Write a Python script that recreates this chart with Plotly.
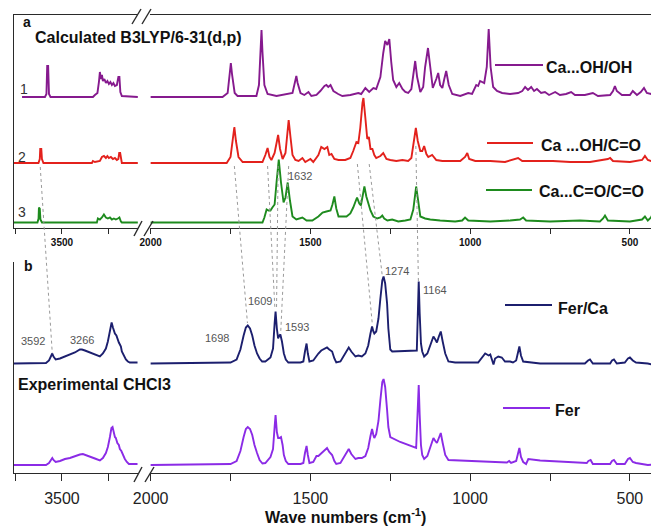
import plotly.graph_objects as go

# ---------------- data (wave number, intensity) ----------------
calc1_wn = [3925, 3681, 3665, 3657, 3647, 3638, 3622, 3170, 3149, 3122, 3106, 3096, 3085, 3074, 3064, 3048,
            3032, 3016, 3000, 2984, 2968, 2952, 2936, 2915, 2899, 2888, 2878, 2862, 2692,
            2000, 1775, 1759, 1753, 1749, 1745, 1737, 1728, 1669, 1661, 1656, 1653, 1650, 1644, 1634, 1616,
            1606, 1556, 1548, 1544, 1540, 1531, 1519, 1506, 1497, 1481, 1469, 1456, 1450, 1444, 1437, 1428,
            1413, 1400, 1375, 1359, 1350, 1341, 1328, 1316, 1303, 1294, 1281, 1272, 1266, 1259, 1253, 1247,
            1241, 1231, 1222, 1212, 1203, 1194, 1184, 1178, 1172, 1166, 1156, 1147, 1141, 1132, 1125, 1117,
            1106, 1100, 1094, 1087, 1081, 1075, 1067, 1056, 1031, 1006, 994, 981, 975, 969, 956, 948, 942,
            936, 928, 916, 900, 875, 850, 837, 828, 819, 809, 800, 791, 778, 766, 753, 734, 719, 700, 684,
            672, 641, 616, 600, 562, 553, 547, 541, 525, 500, 491, 478, 466, 456, 447, 434, 425, 416, 409]
calc1_int = [0, 0, 3, 31, 31, 3, 0, 0, 2, 4, 15, 25, 18, 22, 16, 18, 14, 16, 13, 15, 12, 14, 11, 12, 20, 20, 5, 1, 0,
             0, 0, 4, 22, 34, 22, 4, 1, 1, 12, 45, 67, 45, 12, 3, 2, 1, 4, 14, 21, 14, 4, 2, 5, 1, 2, 6, 11, 12,
             10, 12, 6, 3, 1, 2, 3, 4, 3, 9, 5, 9, 8, 20, 44, 56, 52, 58, 35, 17, 10, 14, 8, 5, 4, 8, 22, 36, 20,
             5, 10, 30, 49, 30, 9, 18, 24, 12, 9, 18, 26, 12, 3, 1, 4, 3, 12, 11, 16, 14, 30, 68, 30, 10, 6, 4, 3,
             4, 6, 10, 7, 10, 6, 8, 4, 5, 2, 5, 2, 3, 5, 2, 2, 4, 1, 2, 6, 11, 6, 2, 2, 6, 2, 5, 9, 4, 3, 7, 2, 4]

calc2_wn = [4011, 3750, 3736, 3731, 3720, 3713, 3697, 3181, 3170, 3149, 3096, 3074, 3053, 3032, 3016, 3000,
            2979, 2957, 2936, 2915, 2899, 2890, 2880, 2872, 2862, 2692,
            2000, 1762, 1750, 1744, 1738, 1733, 1725, 1712, 1650, 1641, 1634, 1628, 1622, 1612, 1606, 1601,
            1595, 1587, 1578, 1573, 1568, 1562, 1556, 1547, 1537, 1525, 1516, 1500, 1491, 1475, 1466, 1456,
            1447, 1441, 1434, 1425, 1412, 1391, 1375, 1366, 1356, 1350, 1344, 1337, 1334, 1328, 1322, 1317,
            1312, 1306, 1300, 1294, 1281, 1272, 1262, 1250, 1231, 1212, 1194, 1184, 1177, 1170, 1164, 1156,
            1150, 1144, 1137, 1131, 1119, 1106, 1087, 1056, 1031, 1016, 1009, 1003, 984, 937, 891, 850, 837,
            781, 741, 687, 625, 569, 562, 553, 500, 462, 453, 444, 422, 409]
calc2_int = [0, 0, 4, 14, 14, 4, 0, 0, 2, 1, 2, 6, 7, 5, 7, 5, 6, 4, 5, 3, 4, 10, 10, 3, 0, 0,
             0, 0, 6, 22, 36, 22, 6, 1, 1, 8, 15, 6, 3, 10, 22, 28, 14, 4, 10, 30, 43, 25, 8, 3, 2, 5, 1, 4,
             1, 8, 16, 14, 16, 8, 9, 4, 3, 3, 5, 12, 21, 20, 35, 60, 65, 45, 24, 26, 14, 14, 8, 5, 7, 10, 4,
             3, 2, 3, 2, 5, 22, 35, 22, 12, 12, 17, 9, 6, 8, 3, 2, 2, 2, 6, 10, 4, 2, 2, 1, 5, 2, 2, 2, 1, 1,
             4, 5, 2, 1, 3, 7, 3, 1, 3]

calc3_wn = [4011, 3761, 3749, 3745, 3736, 3729, 3713, 3128, 3117, 3096, 3074, 3053, 3032, 3011, 2989, 2968,
            2947, 2926, 2904, 2888, 2872, 2862, 2692,
            2000, 1650, 1644, 1637, 1631, 1625, 1619, 1612, 1606, 1599, 1592, 1584, 1578, 1571, 1564, 1556,
            1544, 1525, 1512, 1494, 1475, 1462, 1450, 1437, 1431, 1425, 1419, 1412, 1400, 1387, 1375, 1366,
            1354, 1347, 1342, 1336, 1331, 1325, 1319, 1312, 1303, 1291, 1281, 1275, 1269, 1259, 1244, 1225,
            1203, 1187, 1178, 1169, 1162, 1156, 1141, 1125, 1094, 1047, 1025, 1016, 1006, 937, 875, 844, 834,
            825, 750, 656, 594, 584, 578, 569, 500, 462, 453, 444, 434, 428, 419, 409]
calc3_int = [0, 0, 4, 15, 14, 3, 0, 0, 4, 3, 5, 8, 5, 4, 5, 3, 4, 3, 4, 5, 1, 0, 0,
             0, 0, 5, 13, 12, 12, 15, 18, 40, 63, 40, 20, 25, 40, 22, 6, 3, 5, 2, 2, 6, 10, 11, 12, 18, 26,
             14, 6, 6, 6, 9, 15, 25, 19, 17, 30, 36, 26, 20, 12, 6, 4, 5, 7, 4, 2, 3, 1, 2, 3, 13, 36, 20, 6,
             4, 3, 2, 1, 2, 5, 2, 1, 2, 3, 5, 2, 1, 2, 1, 4, 7, 2, 1, 3, 6, 2, 5, 9, 4, 4]

ferca_wn = [4011, 3670, 3638, 3614, 3603, 3590, 3567, 3521, 3468, 3415, 3362, 3309, 3287, 3255, 3202, 3149,
            3096, 3064, 3032, 3011, 2989, 2971, 2957, 2947, 2936, 2920, 2904, 2894, 2883, 2872, 2862, 2840,
            2819, 2798, 2777, 2695,
            2000, 1844, 1750, 1731, 1719, 1709, 1702, 1696, 1689, 1682, 1675, 1667, 1659, 1651, 1641, 1625,
            1617, 1612, 1609, 1605, 1601, 1597, 1594, 1589, 1583, 1577, 1569, 1531, 1522, 1517, 1512, 1508,
            1503, 1491, 1481, 1475, 1466, 1456, 1448, 1441, 1432, 1425, 1419, 1406, 1394, 1380, 1372, 1359,
            1350, 1339, 1328, 1319, 1312, 1307, 1303, 1300, 1294, 1287, 1281, 1275, 1271, 1266, 1260, 1256,
            1250, 1244, 1167, 1164, 1161, 1158, 1154, 1150, 1144, 1134, 1125, 1115, 1109, 1104, 1098, 1092,
            1086, 1078, 1068, 1047, 975, 962, 953, 942, 937, 931, 927, 922, 912, 901, 891, 875, 866, 856, 852,
            846, 841, 834, 781, 641, 631, 625, 616, 562, 556, 550, 541, 516, 506, 500, 491, 481, 444, 431,
            422, 409]
ferca_int = [0, 0.5, 3, 8, 10, 7, 4, 5, 7, 9, 11, 14, 14, 13, 11, 9, 7, 10, 15, 22, 35, 41, 36, 33, 30, 28,
             22, 21, 19, 17, 12, 8, 4, 2, 1, 1,
             0, 0.5, 1, 4, 14, 28, 36, 38, 35, 28, 18, 10, 5, 2, 2, 6, 15, 40, 52, 35, 25, 28, 29, 22, 10, 4,
             1, 1, 2, 12, 20, 10, 2, 3, 8, 10, 13, 15, 16, 14, 12, 5, 1, 2, 8, 16, 12, 7, 8, 7, 10, 18, 30,
             37, 32, 30, 32, 45, 65, 83, 87, 80, 60, 35, 14, 12, 13, 50, 82, 50, 20, 12, 7, 10, 18, 27, 24,
             21, 27, 32, 22, 10, 2, 1, 1, 6, 10, 8, 9, 3, -1, 5, 7, 6, 2, 2, 1, 3, 10, 17, 8, 2, 0, 0, 3, 4,
             0, 0, 3, 4, 0, 1, 5, 6, 3, 1, 0, -1, 2, 0]

fer_wn = [4011, 3670, 3638, 3614, 3603, 3590, 3567, 3521, 3468, 3415, 3362, 3309, 3277, 3245, 3202, 3149,
          3096, 3064, 3032, 3011, 2989, 2973, 2961, 2947, 2936, 2926, 2910, 2894, 2883, 2867, 2851, 2830,
          2809, 2787, 2695,
          2000, 1750, 1731, 1719, 1709, 1702, 1696, 1689, 1682, 1675, 1667, 1659, 1650, 1641, 1625, 1617,
          1612, 1609, 1605, 1601, 1597, 1592, 1587, 1583, 1577, 1569, 1531, 1522, 1517, 1512, 1508, 1503,
          1491, 1481, 1475, 1466, 1456, 1448, 1441, 1432, 1425, 1419, 1406, 1394, 1380, 1372, 1359, 1350,
          1339, 1328, 1319, 1312, 1307, 1303, 1300, 1294, 1287, 1281, 1275, 1271, 1266, 1260, 1256, 1250,
          1219, 1169, 1164, 1161, 1158, 1154, 1150, 1144, 1134, 1125, 1115, 1109, 1104, 1098, 1092, 1086,
          1078, 1068, 1031, 969, 906, 885, 878, 872, 856, 852, 846, 841, 834, 825, 818, 781, 635, 630, 623,
          616, 562, 556, 550, 541, 516, 506, 500, 491, 481, 444, 422, 409]
fer_int = [0, 0, 2, 5, 7, 5, 3, 4, 6, 7, 9, 10.5, 11, 10, 8.5, 6.5, 4.5, 7, 12, 18, 28, 37, 38, 32, 28, 27,
           22, 20, 16, 14, 10, 6, 3, 1, 1,
           0, 1, 4, 14, 28, 36, 38, 36, 30, 20, 12, 5, 1.5, 2, 8, 16, 38, 50, 33, 27, 27, 28, 20, 10, 4, 1, 1,
           2, 12, 19, 10, 2, 3, 9, 9, 12, 15, 17, 13, 10, 4, 1, 2, 8, 16, 11, 6, 7, 7, 9, 17, 29, 36, 30, 27,
           31, 44, 65, 83, 86, 78, 55, 38, 28, 23, 17, 50, 80, 50, 20, 10, 6, 9, 18, 27, 24, 22, 27, 32, 22,
           10, 5, 4.5, 3.5, 3, 2.5, 4, 2, 4, 10, 17, 8, 3, 1, 6, 4.5, 2, 4, 5, 1, 1, 4, 5, 1, 1, 6, 7, 3, 2,
           0, 1, 1]

# axis ticks
left_major = [3500]
left_minor = [4000, 3000]
right_major = [2000, 1500, 1000, 500]
right_minor = [1750, 1250, 750]

# peak labels (wave numbers annotated in the figure)
calc_label = ["1632"]
exp_labels = ["3592", "3266", "1698", "1609", "1593", "1274", "1164"]

# dotted correlation lines: calculated band -> experimental band (cm-1)
corr_calc = [3731, 1738, 1634, 1601, 1568, 1353, 1316, 1170]
corr_exp = [3603, 1697, 1611, 1606, 1593, 1306, 1275, 1162]

series_names = ["Ca...OH/OH", "Ca ...OH/C=O", "Ca...C=O/C=O", "Fer/Ca", "Fer"]

# ---------------- layout helpers ----------------
# the page body has an 8 px margin, so the figure is drawn 8 px in from the window corner
BODY = 8
W, H = 659 - BODY, 527 - BODY
ML, MR, MT, MB = 14 - BODY, 0, 15 - BODY, 527 - 473
PW, PH = W - ML - MR, H - MT - MB
FONT = "Arial, Liberation Sans, sans-serif"


def px(x):  # window pixel -> paper x
    return (x - BODY - ML) / PW


def py(y):  # window pixel -> paper y
    return (H - MB - (y - BODY)) / PH


colors = ["#861A8E", "#E3211C", "#1E8B1E", "#1C1F6E", "#8B2BE6"]
offsets_a = [131, 65, 5.5]
offsets_b = [109.5, 8]

fig = go.Figure()


def add_series(wn, inten, off, color, xl, yl, xr, yr):
    pts = list(zip(wn, inten, strict=True))
    left = [(w, i) for w, i in pts if w > 2400]
    right = [(w, i) for w, i in pts if w <= 2400]
    for seg, xa, ya in ((left, xl, yl), (right, xr, yr)):
        fig.add_trace(go.Scatter(
            x=[p[0] for p in seg], y=[p[1] + off for p in seg],
            mode="lines", line=dict(color=color, width=1.9),
            xaxis=xa, yaxis=ya, showlegend=False, hoverinfo="skip"))


add_series(calc1_wn, calc1_int, offsets_a[0], colors[0], "x", "y", "x2", "y2")
add_series(calc2_wn, calc2_int, offsets_a[1], colors[1], "x", "y", "x2", "y2")
add_series(calc3_wn, calc3_int, offsets_a[2], colors[2], "x", "y", "x2", "y2")
add_series(ferca_wn, ferca_int, offsets_b[0], colors[3], "x3", "y3", "x4", "y4")
add_series(fer_wn, fer_int, offsets_b[1], colors[4], "x3", "y3", "x4", "y4")

LINEC = "#2a2a2a"
left_range = [4010.6, 2690]
right_range = [2002, 409]
dom_left = [0, px(138)]
dom_right = [px(150), 1]


def xax(domain, rng, anchor, major, minor, ticklen, font, mirror, standoff=None):
    d = dict(domain=domain, range=rng, anchor=anchor, mirror=mirror, automargin=False,
             showgrid=False, zeroline=False, showline=True, linecolor=LINEC, linewidth=1.4,
             ticks="outside", tickcolor=LINEC, tickwidth=1.2, ticklen=ticklen,
             tickmode="array", tickvals=major, ticktext=[str(v) for v in major], tickfont=font,
             minor=dict(tickmode="array", tickvals=minor, ticks="outside", ticklen=ticklen,
                        tickcolor=LINEC, tickwidth=1.2, showgrid=False))
    if standoff is not None:
        d["ticklabelstandoff"] = standoff
    return d


font_a = dict(family=FONT, size=10, color="#111", weight="bold")
font_b = dict(family=FONT, size=16, color="#222")
yax_common = dict(showline=True, linecolor=LINEC, linewidth=1.4, showticklabels=False, ticks="",
                  showgrid=False, zeroline=False, automargin=False)

fig.update_layout(
    xaxis=xax(dom_left, left_range, "y", left_major, left_minor, 5, font_a, True),
    xaxis2=xax(dom_right, right_range, "y2", right_major, right_minor, 5, font_a, True),
    xaxis3=xax(dom_left, left_range, "y3", left_major, left_minor, 7, font_b, False, 4),
    xaxis4=xax(dom_right, right_range, "y4", right_major, right_minor, 7, font_b, False, 4),
    yaxis=dict(domain=[py(228), py(15)], range=[0, 213], anchor="x", **yax_common),
    yaxis2=dict(domain=[py(228), py(15)], range=[0, 213], anchor="x2", visible=False, automargin=False),
    yaxis3=dict(domain=[0, py(262)], range=[0, 211], anchor="x3", **yax_common),
    yaxis4=dict(domain=[0, py(262)], range=[0, 211], anchor="x4", visible=False, automargin=False),
)

shapes = []
# dotted correlation lines (top end just below calc trace 2, bottom end at experimental peak)
corr_top_y = [167, 166, 166, 166, 166, 164, 164, 146]
corr_bot_y = [353, 323, 309, 309, 333, 325, 276, 281]
for c, e, yt, yb in zip(corr_calc, corr_exp, corr_top_y, corr_bot_y, strict=True):
    shapes.append(dict(type="line", xref="x" if c > 2400 else "x2", yref="paper",
                       x0=c, x1=e, y0=py(yt), y1=py(yb),
                       line=dict(color="#9a9a9a", width=1, dash="dot")))

# axis break marks
for (xa, ya, xb, yb) in [(132, 24, 141, 9), (142, 24, 151, 9),
                         (134, 236, 142, 221), (144, 236, 153, 221),
                         (134, 482, 142, 467), (145, 482, 154, 467)]:
    shapes.append(dict(type="line", xref="paper", yref="paper", x0=px(xa), y0=py(ya), x1=px(xb), y1=py(yb),
                       line=dict(color=LINEC, width=1.4)))

# legend line samples
leg = [(495, 543, 65, 0), (487, 533, 143, 1), (486, 532, 190, 2), (505, 552, 305, 3), (503, 550, 408, 4)]
for x0, x1, yy, ci in leg:
    shapes.append(dict(type="line", xref="paper", yref="paper", x0=px(x0), x1=px(x1), y0=py(yy), y1=py(yy),
                       line=dict(color=colors[ci], width=2.2)))

annots = []


def txt(text, x, y, size, bold=False, color="#111", xanchor="left"):
    annots.append(dict(text=text, x=px(x), y=py(y), xref="paper", yref="paper", showarrow=False,
                       xanchor=xanchor, yanchor="middle",
                       font=dict(family=FONT, size=size, color=color, weight="bold" if bold else "normal")))


txt("a", 21, 22, 14, bold=True)
txt("Calculated B3LYP/6-31(d,p)", 33, 38, 16, bold=True)
txt("1", 24, 89, 14, xanchor="center", color="#333")
txt("2", 22, 157, 14, xanchor="center", color="#333")
txt("3", 22, 212, 14, xanchor="center", color="#333")
txt(calc_label[0], 286, 176, 11, color="#555")
txt(series_names[0], 544, 67, 16, bold=True)
txt(series_names[1], 539, 145, 16, bold=True)
txt(series_names[2], 537, 191, 16, bold=True)

txt("b", 22, 266, 14, bold=True)
lab_pos = [(33, 341), (82, 340), (217, 338), (260, 301), (297, 327), (397, 271), (435, 290)]
for t, (lx, ly) in zip(exp_labels, lab_pos, strict=True):
    txt(t, lx, ly, 11, color="#555", xanchor="center")
txt(series_names[3], 556, 308, 16, bold=True)
txt("Experimental CHCl3", 16, 384, 16, bold=True)
txt(series_names[4], 553, 410, 16, bold=True)
txt("Wave numbers (cm<sup>-1</sup>)", 345, 516, 16, bold=True, xanchor="center")

fig.update_layout(
    width=W, height=H, margin=dict(l=ML, r=MR, t=MT, b=MB, autoexpand=False),
    paper_bgcolor="white", plot_bgcolor="white",
    shapes=shapes, annotations=annots, showlegend=False,
    font=dict(family=FONT),
)

fig.write_html("out.html")
